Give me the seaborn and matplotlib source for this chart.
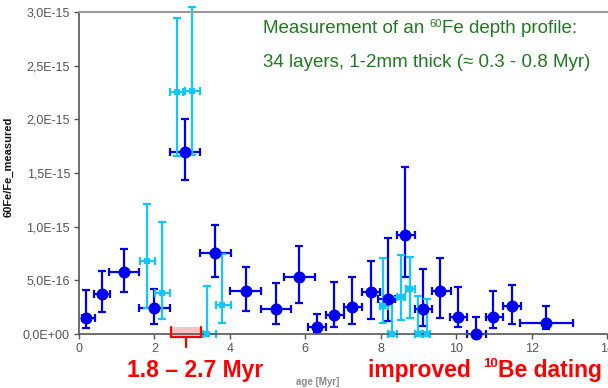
import numpy as np
import pandas as pd
import matplotlib
matplotlib.use("Agg")
import matplotlib.pyplot as plt
import matplotlib.patches as mpatches
from matplotlib.ticker import FuncFormatter
import seaborn as sns

# 60Fe/Fe ratios in units of 1e-16, age in Myr
SCALE = 1e-16

# layers measured with high statistics (dark blue)
dark_age   = [0.19, 0.60, 1.19, 2.00, 2.81, 3.60, 4.42, 5.23, 5.83, 6.30, 6.77,
              7.25, 7.73, 8.18, 8.65, 9.12, 9.58, 10.06, 10.53, 10.99, 11.48, 12.39]
dark_age_lo = [0.08, 0.40, 0.80, 1.60, 2.42, 3.20, 4.00, 4.82, 5.43, 6.08, 6.54,
               7.03, 7.50, 7.94, 8.43, 8.90, 9.36, 9.84, 10.28, 10.79, 11.25, 11.68]
dark_age_hi = [0.42, 0.82, 1.60, 2.40, 3.21, 4.02, 4.83, 5.63, 6.25, 6.55, 7.03,
               7.50, 7.97, 8.38, 8.90, 9.36, 9.86, 10.28, 10.80, 11.25, 11.71, 13.11]
dark_ratio = [1.50, 3.73, 5.75, 2.45, 17.0, 7.58, 4.04, 2.30, 5.28, 0.68, 1.77,
              2.55, 3.89, 3.29, 9.23, 2.30, 4.00, 1.61, 0.00, 1.56, 2.61, 1.00]
dark_ratio_lo = [0.55, 2.05, 3.90, 0.90, 14.35, 5.35, 2.14, 0.93, 2.92, 0.20, 0.68,
                 0.93, 1.40, 1.24, 5.34, 0.75, 1.46, 0.68, 0.00, 0.53, 0.93, 0.44]
dark_ratio_hi = [4.10, 5.90, 7.90, 4.20, 20.0, 10.2, 6.25, 4.75, 8.20, 1.86, 4.87,
                 5.34, 6.80, 8.97, 15.6, 6.06, 7.05, 4.35, 1.60, 4.00, 4.57, 2.64]

# layers with low statistics (light blue)
light_age   = [1.79, 2.19, 2.59, 3.00, 3.40, 3.80, 8.07, 8.29, 8.53, 8.78, 9.00, 9.22]
light_age_lo = [1.61, 2.02, 2.41, 2.81, 3.29, 3.62, 7.97, 8.18, 8.43, 8.67, 8.90, 9.13]
light_age_hi = [2.02, 2.40, 2.77, 3.21, 3.62, 4.02, 8.18, 8.44, 8.65, 8.90, 9.09, 9.31]
light_ratio = [6.83, 3.85, 22.5, 22.6, 0.00, 2.70, 2.60, 0.00, 3.48, 4.19, 0.00, 0.00]
light_ratio_lo = [2.45, 1.37, 16.6, 16.7, 0.00, 1.05, 1.00, 0.00, 1.30, 1.52, 0.00, 0.00]
light_ratio_hi = [12.1, 10.4, 29.4, 30.5, 4.47, 7.43, 7.05, 3.48, 7.36, 7.20, 3.57, 3.26]

x_ticks = [0, 2, 4, 6, 8, 10, 12, 14]
y_ticks = [0, 5, 10, 15, 20, 25, 30]

# age interval marked below the axis
bracket_age = (2.45, 3.24)

DARK = "#0000f0"
LIGHT = "#10c8ff"
GREEN = "#1f7a1f"
RED = "#ff0000"

sns.set_theme(style="white")
plt.rcParams["font.family"] = ["Liberation Sans", "DejaVu Sans"]


def frame(age, lo, hi, ratio, rlo, rhi):
    df = pd.DataFrame({"age": age, "age_lo": lo, "age_hi": hi,
                       "ratio": np.array(ratio) * SCALE,
                       "ratio_lo": np.array(rlo) * SCALE,
                       "ratio_hi": np.array(rhi) * SCALE})
    df["xm"] = df["age"] - df["age_lo"]
    df["xp"] = df["age_hi"] - df["age"]
    df["ym"] = df["ratio"] - df["ratio_lo"]
    df["yp"] = df["ratio_hi"] - df["ratio"]
    return df


dark = frame(dark_age, dark_age_lo, dark_age_hi, dark_ratio, dark_ratio_lo, dark_ratio_hi)
light = frame(light_age, light_age_lo, light_age_hi, light_ratio, light_ratio_lo, light_ratio_hi)

W, H = 608, 388
fig = plt.figure(figsize=(W / 100, H / 100), dpi=100)
ax = fig.add_axes([79 / W, 54 / H, 528 / W, 322 / H])

for df, col, lw, cap in [(dark, DARK, 1.6, 3.0), (light, LIGHT, 1.6, 2.6)]:
    eb = ax.errorbar(df["age"], df["ratio"],
                     xerr=[df["xm"], df["xp"]], yerr=[df["ym"], df["yp"]],
                     fmt="none", ecolor=col, elinewidth=lw, capsize=cap,
                     capthick=lw, zorder=2)
    for art in list(eb.lines[1]) + list(eb.lines[2]):
        art.set_clip_on(False)

sns.scatterplot(data=dark, x="age", y="ratio", ax=ax, color=DARK, s=75,
                marker="o", edgecolor=DARK, linewidth=0, zorder=3, clip_on=False)
sns.scatterplot(data=light, x="age", y="ratio", ax=ax, color=LIGHT, s=22,
                marker="s", edgecolor=LIGHT, linewidth=0, zorder=4, clip_on=False)

ax.set_xlim(0, 14)
ax.set_ylim(0, 3.0e-15)
ax.set_xticks(x_ticks)
ax.set_yticks([v * SCALE for v in y_ticks])
ax.yaxis.set_major_formatter(
    FuncFormatter(lambda v, p: f"{v:.1E}".replace(".", ",")))

ax.tick_params(axis="both", which="major", labelsize=9, colors="#555555",
               direction="out", length=3.5, width=1, pad=3, left=True, bottom=True)

for side in ["left", "bottom"]:
    ax.spines[side].set_color("#555555")
    ax.spines[side].set_linewidth(1.2)
ax.spines["top"].set_color("#999999")
ax.spines["top"].set_linewidth(1.5)
ax.spines["right"].set_visible(False)
ax.grid(False)
ax.set_xlabel("")
ax.set_ylabel("60Fe/Fe_measured", fontsize=8, fontweight="bold", color="#111111")
ax.yaxis.set_label_coords(-0.123, 0.52)

# bracket marking the age interval below the axis
y_top, y_bar, y_tip = 0.65 * SCALE, -0.28 * SCALE, -1.18 * SCALE
x0, x1 = bracket_age
ax.add_patch(mpatches.Rectangle((x0, y_bar), x1 - x0, y_top - y_bar,
                                facecolor="#f6c4c4", edgecolor="none",
                                clip_on=False, zorder=1))
ax.plot([x0, x0, x1, x1], [y_top, y_bar, y_bar, y_top], color=RED, lw=1.6,
        clip_on=False, zorder=5, solid_joinstyle="miter")
xm = (x0 + x1) / 2
ax.plot([xm, xm], [y_bar, y_tip], color=RED, lw=1.6, clip_on=False, zorder=5)


def px(x, y):
    return x / W, 1 - y / H


fig.text(*px(318, 382), "age [Myr]", fontsize=7, fontweight="bold",
         color="#8a8a8a", ha="center", va="center")

renderer = fig.canvas.get_renderer()


def text_run(x, y, pieces, **kw):
    """Draw consecutive text pieces; each is (string, size, raise_px)."""
    for s, size, rise in pieces:
        t = fig.text(*px(x, y - rise), s, fontsize=size, va="baseline",
                     ha="left", **kw)
        x = t.get_window_extent(renderer).x1


text_run(263, 33, [("Measurement of an ", 13.5, 0), ("60", 8, 6),
                   ("Fe depth profile:", 13.5, 0)], color=GREEN)
text_run(263, 67, [("34 layers, 1-2mm thick (\u2248 0.3 - 0.8 Myr)", 13.5, 0)],
         color=GREEN)

text_run(127, 377, [("1.8 \u2013 2.7 Myr", 16.5, 0)], color=RED, fontweight="bold")
text_run(368, 377, [("improved  ", 16.5, 0), ("10", 9.5, 10),
                    ("Be dating", 16.5, 0)], color=RED, fontweight="bold")

fig.savefig("out.png", dpi=100)
